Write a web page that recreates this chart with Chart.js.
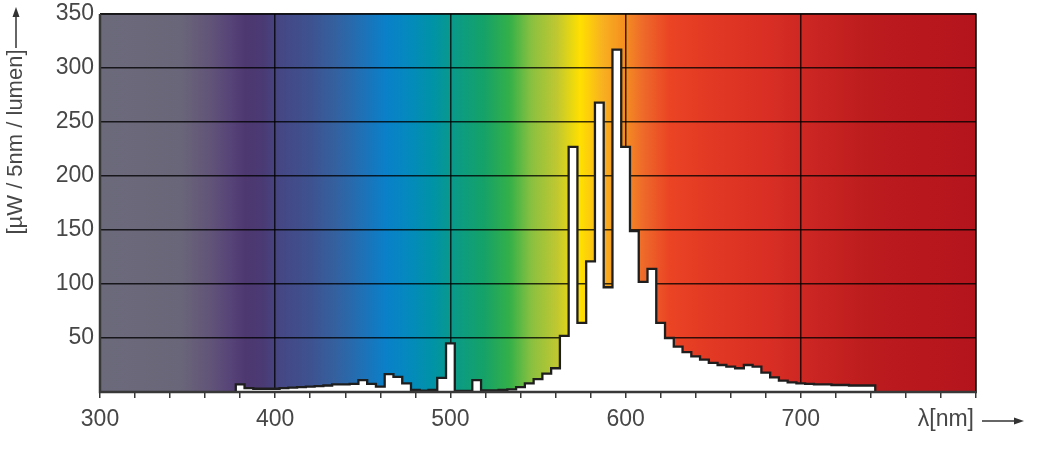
<!DOCTYPE html>
<html><head><meta charset="utf-8">
<script src="https://cdn.jsdelivr.net/npm/chart.js@4"></script>
<style>html,body{margin:0;padding:0;background:#fff;}#wrap{width:1042px;height:460px;}</style>
</head><body><div id="wrap"><canvas id="c" width="1042" height="460"></canvas></div>
<script>
// bin centres (nm), 5 nm bins
const wavelengths = [380,385,390,395,400,405,410,415,420,425,430,435,440,445,450,455,460,465,470,475,
  480,485,490,495,500,505,510,515,520,525,530,535,540,545,550,555,560,565,570,575,
  580,585,590,595,600,605,610,615,620,625,630,635,640,645,650,655,660,665,670,675,
  680,685,690,695,700,705,710,715,720,725,730,735,740];
// µW / 5nm / lumen
const values = [7,3.5,3,3,3,3.5,4,4.5,5,5.5,6,7,7,7.5,11,7.5,5,16.5,14,8,
  2,1.2,2,13,45,1,1,11,1.5,1.5,2,2.5,4.5,8,12,17,22,52,227,64,
  121,268,97,317,227,149,102,114,64,50,42,37,33,30,27,25,23.5,22,25,23.5,
  18,13.5,10.5,9,8,7.5,7,7,6.5,6.5,6,6,6];
const binWidth = 5;
const xTickLabels = ['300','400','500','600','700'];
const yTickLabels = ['50','100','150','200','250','300','350'];
const xTitle = 'λ[nm]';
const yTitle = '[µW / 5nm / lumen]';
// background spectrum colour stops: [wavelength, colour]
const spectrumStops = [[300,'#6b6a7b'],[346,'#6a6679'],[363,'#615478'],[374,'#574478'],[383,'#4e3870'],
  [393,'#4a3a74'],[403,'#454784'],[420,'#3e5290'],[434,'#35609e'],[449,'#2070b5'],[463,'#0a80c8'],
  [474,'#0588c0'],[490,'#0093a6'],[502,'#0a9a88'],[519,'#15a268'],[534,'#35b048'],[546,'#88c040'],
  [561,'#c0c830'],[574,'#ffe000'],[587,'#f8b020'],[599,'#f59020'],[610,'#ee6a2a'],[625,'#ea4424'],
  [645,'#e33a24'],[682,'#d82e24'],[711,'#c82422'],[739,'#bc1c1e'],[800,'#b4141c']];

const points = [{x: wavelengths[0] - binWidth/2, y: 0}];
wavelengths.forEach((w, i) => points.push({x: w - binWidth/2, y: values[i]}));
points.push({x: wavelengths[wavelengths.length-1] + binWidth/2, y: 0});

const FONT = "'Liberation Sans', Arial, sans-serif";
const TXT = '#474747';
const GRID = 'rgba(0,0,0,0.78)';

const bgPlugin = {
  id: 'bg',
  beforeDraw(chart) {
    const {ctx, chartArea: a, scales: {x}} = chart;
    const x0 = x.getPixelForValue(x.min), x1 = x.getPixelForValue(x.max);
    const g = ctx.createLinearGradient(x0, 0, x1, 0);
    spectrumStops.forEach(([w, c]) => g.addColorStop((w - x.min) / (x.max - x.min), c));
    ctx.save();
    ctx.fillStyle = g;
    ctx.fillRect(a.left, a.top, a.right - a.left, a.bottom - a.top);
    ctx.restore();
  },
  afterDatasetsDraw(chart) {
    const {ctx, chartArea: a} = chart;
    ctx.save();
    ctx.strokeStyle = GRID; ctx.lineWidth = 1.5;
    ctx.beginPath();
    ctx.moveTo(a.left, a.top); ctx.lineTo(a.right, a.top); ctx.lineTo(a.right, a.bottom);
    ctx.stroke();
    ctx.strokeStyle = '#383838'; ctx.lineWidth = 2.5;
    ctx.beginPath();
    ctx.moveTo(a.left, a.top); ctx.lineTo(a.left, a.bottom); ctx.lineTo(a.right + 1, a.bottom);
    ctx.stroke();
    ctx.restore();
  },
  afterDraw(chart) {
    const {ctx, chartArea: a} = chart;
    ctx.save();
    ctx.fillStyle = TXT; ctx.strokeStyle = '#333'; ctx.lineWidth = 1.5;
    ctx.font = '22px ' + FONT;
    // y title
    ctx.save();
    ctx.translate(16, 142);
    ctx.rotate(-Math.PI / 2);
    ctx.textAlign = 'center'; ctx.textBaseline = 'middle';
    ctx.fillText(yTitle, 0, 0);
    ctx.restore();
    ctx.beginPath(); ctx.moveTo(16, 48); ctx.lineTo(16, 14); ctx.stroke();
    ctx.beginPath(); ctx.moveTo(16, 7); ctx.lineTo(12.5, 17); ctx.lineTo(19.5, 17); ctx.closePath();
    ctx.fillStyle = '#333'; ctx.fill();
    // x title
    ctx.fillStyle = TXT;
    ctx.font = '23px ' + FONT;
    ctx.textAlign = 'right'; ctx.textBaseline = 'middle';
    ctx.fillText(xTitle, a.right - 2, 420);
    ctx.beginPath(); ctx.moveTo(982, 421); ctx.lineTo(1016, 421); ctx.stroke();
    ctx.beginPath(); ctx.moveTo(1024, 421); ctx.lineTo(1014, 417.5); ctx.lineTo(1014, 424.5); ctx.closePath();
    ctx.fillStyle = '#333'; ctx.fill();
    ctx.restore();
  }
};

new Chart(document.getElementById('c'), {
  type: 'line',
  data: {
    datasets: [{
      data: points,
      stepped: 'before',
      borderColor: '#1e1e1e',
      borderWidth: 2.3,
      backgroundColor: '#ffffff',
      fill: 'origin',
      pointRadius: 0,
      tension: 0
    }]
  },
  options: {
    responsive: false,
    animation: false,
    devicePixelRatio: 1,
    layout: {padding: {top: 14, right: 66, left: 0, bottom: 0}},
    plugins: {legend: {display: false}, tooltip: {enabled: false}},
    scales: {
      x: {
        type: 'linear', min: 300, max: 800,
        afterFit: s => { s.height = 68; s.paddingLeft = 0; s.paddingRight = 0; },
        border: {display: false},
        grid: {
          color: c => (c.tick && c.tick.value % 100 === 0 && c.tick.value > 300) ? GRID : 'rgba(0,0,0,0)',
          lineWidth: 1.5,
          drawTicks: true, tickLength: 6, tickColor: '#383838', tickWidth: 1.5
        },
        ticks: {
          stepSize: 20, autoSkip: false, maxRotation: 0, padding: 8,
          color: TXT, font: {family: FONT, size: 23},
          callback: v => xTickLabels.includes(String(v)) ? String(v) : ''
        }
      },
      y: {
        min: 0, max: 350,
        afterFit: s => { s.width = 100; s.paddingTop = 0; s.paddingBottom = 0; },
        border: {display: false},
        grid: {
          color: c => (c.tick && c.tick.value > 0) ? GRID : 'rgba(0,0,0,0)',
          lineWidth: 1.5, drawTicks: false
        },
        ticks: {
          stepSize: 50, padding: 6,
          color: TXT, font: {family: FONT, size: 23},
          callback: v => yTickLabels.includes(String(v)) ? String(v) : ''
        }
      }
    }
  },
  plugins: [bgPlugin]
});
</script></body></html>
